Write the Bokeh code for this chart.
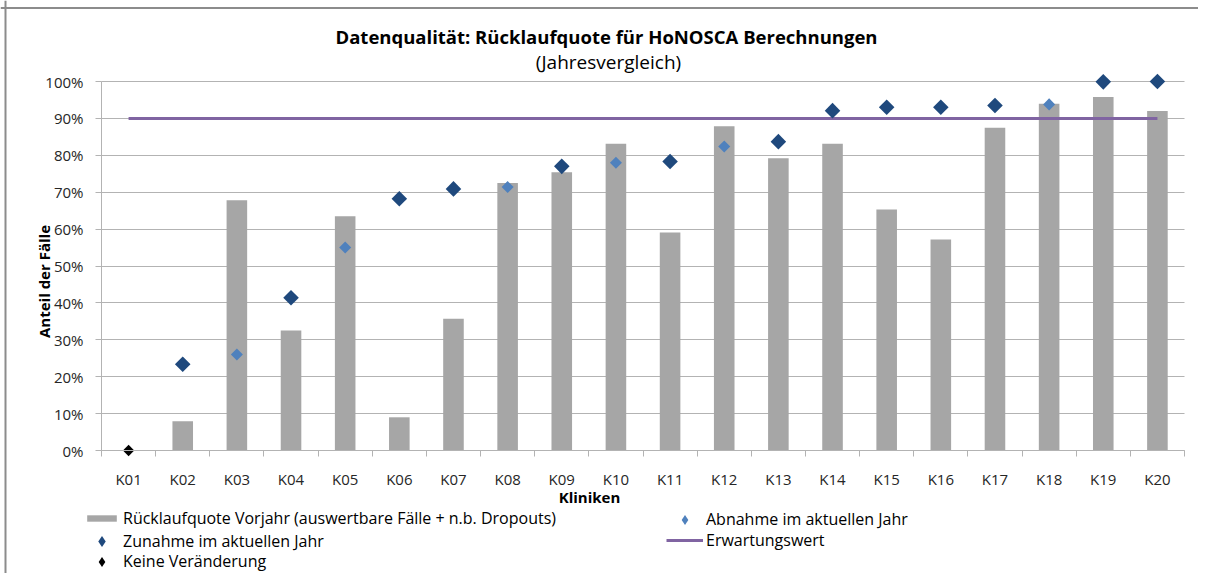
import math
from bokeh.plotting import figure
from bokeh.models import (ColumnDataSource, FixedTicker, NumeralTickFormatter, Label,
                          Legend, LegendItem, Range1d, Span)
from bokeh.embed import file_html
from bokeh.resources import INLINE

# ---------------- data ----------------
kliniken = ["K01", "K02", "K03", "K04", "K05", "K06", "K07", "K08", "K09", "K10",
            "K11", "K12", "K13", "K14", "K15", "K16", "K17", "K18", "K19", "K20"]
vorjahr = [0.000, 0.079, 0.678, 0.325, 0.635, 0.090, 0.357, 0.725, 0.754, 0.831,
           0.591, 0.879, 0.792, 0.831, 0.653, 0.572, 0.875, 0.940, 0.958, 0.920]
aktuell = [0.000, 0.234, 0.260, 0.414, 0.550, 0.682, 0.709, 0.714, 0.770, 0.780,
           0.783, 0.824, 0.837, 0.921, 0.930, 0.930, 0.935, 0.938, 0.999, 1.000]
erwartungswert = 0.90
y_ticks = [0.0, 0.1, 0.2, 0.3, 0.4, 0.5, 0.6, 0.7, 0.8, 0.9, 1.0]

title_text = "Datenqualität: Rücklaufquote für HoNOSCA Berechnungen"
subtitle_text = "(Jahresvergleich)"
x_label = "Kliniken"
y_label = "Anteil der Fälle"
lbl_bar = "Rücklaufquote Vorjahr (auswertbare Fälle + n.b. Dropouts)"
lbl_up = "Zunahme im aktuellen Jahr"
lbl_down = "Abnahme im aktuellen Jahr"
lbl_same = "Keine Veränderung"
lbl_exp = "Erwartungswert"

FONT = "Open Sans"
C_BAR, C_UP, C_DOWN, C_SAME, C_EXP = "#a6a6a6", "#1f497d", "#4f81bd", "#000000", "#8064a2"

# ---------------- layout (pixels in the canvas) ----------------
CW, CH = 1198, 573          # canvas size
PL, PR = 101, 1184          # x of left / right edge of plotting area
Y0, Y100 = 450, 81          # y of 0% and 100%

xs = list(range(1, len(kliniken) + 1))
x_lo, x_hi = xs[0] - 0.5, xs[-1] + 0.5
sx = (PR - PL) / (x_hi - x_lo)
sy = (Y0 - Y100) / 1.0
xr_start = x_lo - PL / sx
xr_end = xr_start + CW / sx
yr_end = Y0 / sy
yr_start = yr_end - CH / sy

bar_src = ColumnDataSource(dict(x=xs, top=vorjahr, k=kliniken))


def subset(cond):
    idx = [i for i in range(len(kliniken)) if cond(aktuell[i], vorjahr[i])]
    return ColumnDataSource(dict(x=[xs[i] for i in idx], y=[aktuell[i] for i in idx]))


up_src = subset(lambda a, v: a > v)
down_src = subset(lambda a, v: a < v)
same_src = subset(lambda a, v: a == v)

# ---------------- figure ----------------
p = figure(width=CW, height=CH,
           x_range=Range1d(xr_start, xr_end), y_range=Range1d(yr_start, yr_end),
           output_backend="svg", toolbar_location=None,
           min_border_left=0, min_border_right=0, min_border_top=0, min_border_bottom=0)
p.outline_line_color = None
p.background_fill_color = "white"
p.border_fill_color = "white"

# chart border (top / left)
p.add_layout(Span(location=yr_end - 7.5 / sy, dimension="width", line_color="#8c8c8c", line_width=2))
p.add_layout(Span(location=xr_start + 5 / sx, dimension="height", line_color="#8c8c8c", line_width=2))

p.xgrid.visible = False
p.ygrid.ticker = FixedTicker(ticks=y_ticks)
p.ygrid.grid_line_color = "#b3b3b3"
p.ygrid.grid_line_width = 1
p.ygrid.cross_bounds = (x_lo, x_hi)

yax = p.yaxis[0]
yax.ticker = FixedTicker(ticks=y_ticks)
yax.formatter = NumeralTickFormatter(format="0%")
yax.fixed_location = x_lo
yax.bounds = (0, 1)
yax.axis_line_color = "#b3b3b3"
yax.major_tick_line_color = "#b3b3b3"
yax.major_tick_out = 6
yax.major_tick_in = 0
yax.minor_tick_line_color = None
yax.major_label_standoff = 12
yax.major_label_text_font = FONT
yax.major_label_text_font_size = "15px"
yax.major_label_text_color = "#262626"

xax = p.xaxis[0]
xax.ticker = FixedTicker(ticks=xs, minor_ticks=[x - 0.5 for x in xs] + [xs[-1] + 0.5])
xax.major_label_overrides = {x: k for x, k in zip(xs, kliniken)}
xax.fixed_location = 0
xax.bounds = (x_lo, x_hi)
xax.axis_line_color = "#b3b3b3"
xax.major_tick_line_color = None
xax.major_tick_out = 0
xax.minor_tick_line_color = "#b3b3b3"
xax.minor_tick_out = 6
xax.minor_tick_in = 0
xax.major_label_standoff = 12
xax.major_label_text_font = FONT
xax.major_label_text_font_size = "15px"
xax.major_label_text_color = "#262626"

bars = p.vbar(x="x", top="top", bottom=0, width=0.38, source=bar_src,
              fill_color=C_BAR, line_color=None)
exp_line = p.line(x=[xs[0], xs[-1]], y=[erwartungswert, erwartungswert],
                  line_color=C_EXP, line_width=3)
p.scatter(x="x", y="y", source=up_src, marker="square", angle=math.pi / 4, size=11,
          fill_color=C_UP, line_color=None)
p.scatter(x="x", y="y", source=down_src, marker="square", angle=math.pi / 4, size=8.5,
          fill_color=C_DOWN, line_color=None)
p.scatter(x="x", y="y", source=same_src, marker="square", angle=math.pi / 4, size=8,
          fill_color=C_SAME, line_color=None)

# legend-only glyph renderers (no visible data): diamond symbols as in the original legend
nan_src = lambda: ColumnDataSource(dict(x=[float("nan")], y=[float("nan")]))
leg_up = p.scatter(x="x", y="y", source=nan_src(), marker="diamond", fill_color=C_UP, line_color=None)
leg_down = p.scatter(x="x", y="y", source=nan_src(), marker="diamond", fill_color=C_DOWN, line_color=None)
leg_same = p.scatter(x="x", y="y", source=nan_src(), marker="diamond", fill_color=C_SAME, line_color=None)


# ---------------- texts (positions in canvas pixels, from top-left) ----------------
def canvas_label(text, cx, cy, size, bold=False, angle=0.0):
    p.add_layout(Label(x=cx, y=CH - cy, x_units="screen", y_units="screen", text=text,
                       text_font=FONT, text_font_size=size,
                       text_font_style="bold" if bold else "normal",
                       text_align="center", text_baseline="middle", angle=angle,
                       text_color="#000000"))


canvas_label(title_text, 606, 36, "18.5px", bold=True)
canvas_label(subtitle_text, 608, 61, "19px")
canvas_label(x_label, 589, 496, "15px", bold=True)
canvas_label(y_label, 43.5, 281, "15px", bold=True, angle=math.pi / 2)


# ---------------- legends ----------------
def add_legend(label, renderer, cx, row_cy, gh=20):
    rowh = max(gh, 20)
    lg = Legend(items=[LegendItem(label=label, renderers=[renderer])],
                location=(cx, CH - (row_cy + rowh / 2)), orientation="vertical",
                glyph_width=37, glyph_height=gh, label_height=20, label_standoff=3,
                padding=0, margin=0, spacing=0, border_line_color=None,
                background_fill_alpha=0, label_text_font=FONT,
                label_text_font_size="16px", label_text_color="#000000")
    p.add_layout(lg)


add_legend(lbl_bar, bars, 83, 519, gh=8)
add_legend(lbl_up, leg_up, 83, 541, gh=28)
add_legend(lbl_same, leg_same, 83, 561, gh=25)
add_legend(lbl_down, leg_down, 666, 519, gh=25)
add_legend(lbl_exp, exp_line, 666, 541)

open("out.html", "w").write(file_html(p, INLINE))
